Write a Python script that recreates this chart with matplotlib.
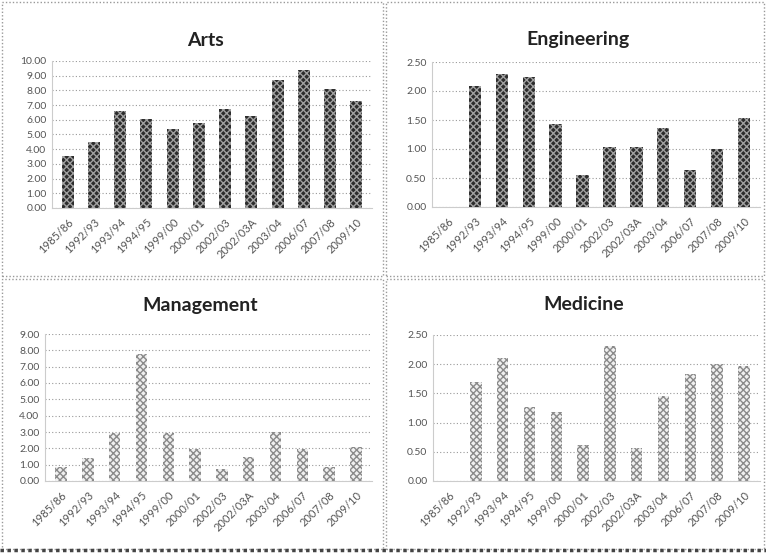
import numpy as np
import matplotlib
matplotlib.use("Agg")
import matplotlib.pyplot as plt
from matplotlib.patches import Rectangle

plt.rcParams['font.family'] = ['Lato', 'DejaVu Sans']

years = ['1985/86', '1992/93', '1993/94', '1994/95', '1999/00', '2000/01',
         '2002/03', '2002/03A', '2003/04', '2006/07', '2007/08', '2009/10']

arts = [3.57, 4.5, 6.6, 6.05, 5.4, 5.8, 6.72, 6.28, 8.72, 9.42, 8.08, 7.28]
engineering = [0.0, 2.09, 2.3, 2.25, 1.43, 0.55, 1.04, 1.04, 1.37, 0.64, 1.0, 1.53]
management = [0.86, 1.4, 2.94, 7.8, 2.96, 1.96, 0.74, 1.5, 3.0, 1.96, 0.86, 2.1]
medicine = [0.0, 1.7, 2.11, 1.27, 1.18, 0.61, 2.32, 0.57, 1.45, 1.84, 2.0, 1.97]

W, H = 766, 553
fig = plt.figure(figsize=(W / 100, H / 100), dpi=100)


def px(x0, y0, x1, y1):
    # pixel box -> figure fraction [left, bottom, width, height]
    return [x0 / W, 1 - y1 / H, (x1 - x0) / W, (y1 - y0) / H]


panels = [
    ('Arts', arts, 10, 1, px(52, 61, 372, 208), 'dark', (205, 40)),
    ('Engineering', engineering, 2.5, 0.5, px(432, 62, 760, 207), 'dark', (578, 40)),
    ('Management', management, 9, 1, px(45, 334, 372, 481), 'light', (200, 305)),
    ('Medicine', medicine, 2.5, 0.5, px(433, 335, 760, 481), 'light', (584, 305)),
]

x = np.arange(len(years))
for title, vals, ymax, step, box, shade, tpos in panels:
    ax = fig.add_axes(box)
    if shade == 'dark':
        ax.bar(x, vals, width=0.46, color='#2c2c2c', edgecolor='#a0a0a0',
               hatch='xxxxx', linewidth=0, zorder=3)
    else:
        ax.bar(x, vals, width=0.42, color='#f0f0f0', edgecolor='#8a8a8a',
               hatch='xxxxx', linewidth=0, zorder=3)
    ax.set_ylim(0, ymax)
    ax.set_xlim(-0.6, len(years) - 0.4)
    ax.set_yticks(np.arange(0, ymax + step / 2, step))
    ax.set_yticklabels([f'{v:.2f}' for v in np.arange(0, ymax + step / 2, step)],
                       fontsize=7.5, color='#555555')
    ax.set_xticks(x)
    ax.set_xticklabels(years, rotation=45, ha='right', rotation_mode='anchor',
                       fontsize=8, color='#555555')
    ax.tick_params(axis='x', length=0, pad=6)
    ax.tick_params(axis='y', length=0, pad=4)
    ax.yaxis.grid(True, linestyle=(0, (1, 2)), color='#999999', linewidth=0.8)
    for s in ['top', 'right']:
        ax.spines[s].set_visible(False)
    for s in ['left', 'bottom']:
        ax.spines[s].set_color('#cccccc')
        ax.spines[s].set_linewidth(0.8)
    fig.text(tpos[0] / W, 1 - tpos[1] / H, title, fontsize=14, fontweight='bold',
             ha='center', va='center', color='#222222')

# panel borders
border = dict(fill=False, edgecolor='#999999', linestyle=(0, (1, 1.5)), linewidth=1,
              transform=fig.transFigure)
fig.add_artist(Rectangle((2 / W, 1 - 276 / H), 381 / W, 274 / H, **border))
fig.add_artist(Rectangle((386 / W, 1 - 276 / H), 378 / W, 274 / H, **border))
fig.add_artist(Rectangle((2 / W, 1 - 549 / H), 381 / W, 270 / H, **border))
fig.add_artist(Rectangle((386 / W, 1 - 549 / H), 378 / W, 270 / H, **border))
fig.add_artist(plt.Line2D([0, 1], [1 - 550 / H, 1 - 550 / H], transform=fig.transFigure,
                          color='#444444', linestyle=(0, (1, 1)), linewidth=2.5))

fig.savefig('out.png', dpi=100)
